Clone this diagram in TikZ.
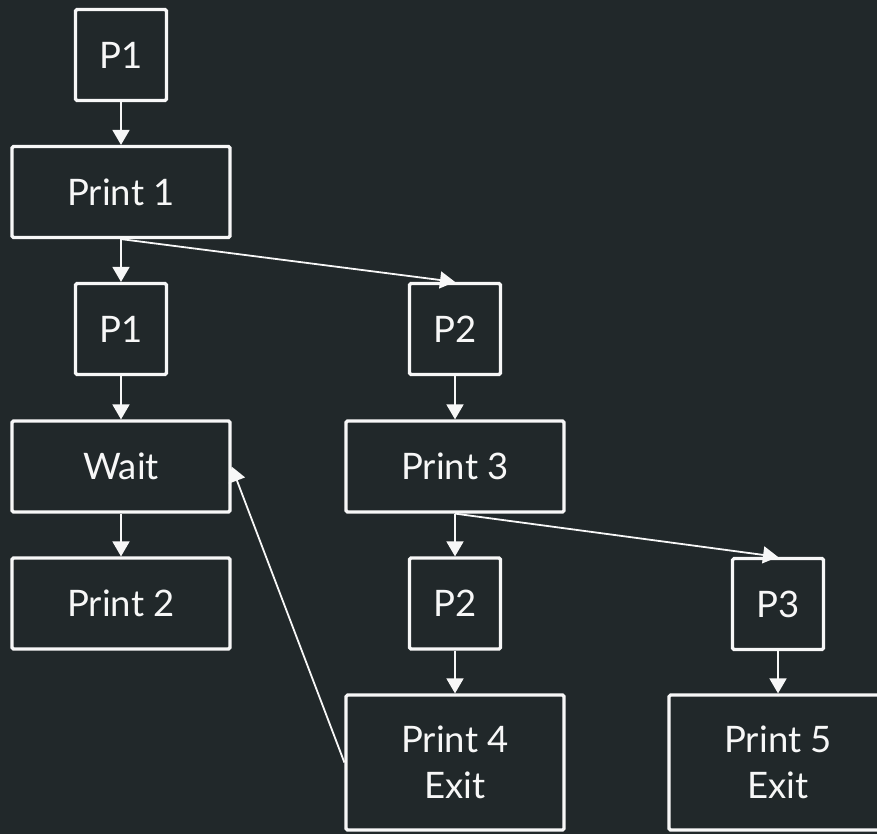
\documentclass[tikz,border=0pt]{standalone}
\usepackage{fontspec}
\setmainfont{Lato}
\usetikzlibrary{arrows.meta}
\definecolor{bgc}{HTML}{21282A}
\definecolor{fg}{HTML}{F7F7F7}
\begin{document}
\begin{tikzpicture}[x=1pt,y=-1pt,
  box/.style={draw=fg, line width=3.2pt, rounded corners=1.5pt, text=fg, align=center, inner sep=0pt,
    font=\fontsize{36.5}{46}\selectfont},
  small/.style={box, minimum width=91pt, minimum height=91pt},
  wide/.style={box, minimum width=218pt, minimum height=91pt},
  tall/.style={box, minimum width=218pt, minimum height=135pt},
  conn/.style={draw=fg, line width=1.8pt, -{Triangle[length=15pt,width=17pt]}}]
\fill[bgc] (0,0) rectangle (877,834);
\useasboundingbox (0,0) rectangle (877,834);
\node[small] (p1a) at (121,55) {P1};
\node[wide] (pr1) at (121,192) {Print 1};
\node[small] (p1b) at (121,329) {P1};
\node[small] (p2a) at (455,329) {P2};
\node[wide] (wait) at (121,466.5) {Wait};
\node[wide] (pr3) at (455,466.5) {Print 3};
\node[wide] (pr2) at (121,603.5) {Print 2};
\node[small] (p2b) at (455,603.5) {P2};
\node[small] (p3) at (778,604) {P3};
\node[tall] (pr4) at (455,762.5) {Print 4\\Exit};
\node[tall] (pr5) at (778,762.5) {Print 5\\Exit};
\draw[conn] (p1a) -- (pr1);
\draw[conn] (pr1) -- (p1b);
\draw[conn] (pr1.south) -- (p2a.north);
\draw[conn] (p1b) -- (wait);
\draw[conn] (p2a) -- (pr3);
\draw[conn] (wait) -- (pr2);
\draw[conn] (pr3) -- (p2b);
\draw[conn] (pr3.south) -- (p3.north);
\draw[conn] (p2b) -- (pr4);
\draw[conn] (p3) -- (pr5);
\draw[conn] (pr4.west) -- (wait.east);
\end{tikzpicture}
\end{document}
